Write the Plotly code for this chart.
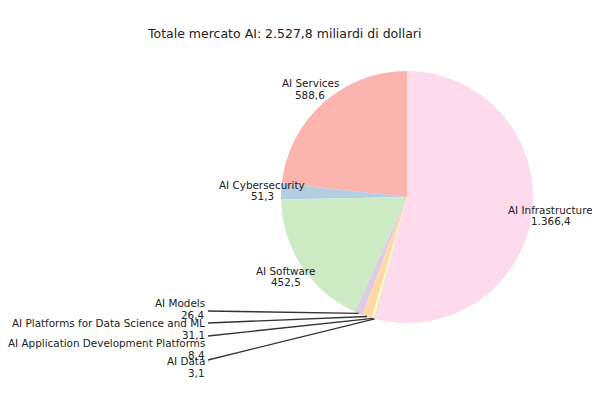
import math
import plotly.graph_objects as go

labels = ["AI Services", "AI Cybersecurity", "AI Software", "AI Models",
          "AI Platforms for Data Science and ML", "AI Application Development Platforms",
          "AI Data", "AI Infrastructure"]
values = [588.6, 51.3, 452.5, 26.4, 31.1, 8.4, 3.1, 1366.4]
colors = ["#fbb4ae", "#b3cde3", "#ccebc5", "#decbe4", "#fed9a6", "#ffffcc", "#e5d8bd", "#fddaec"]
title_text = "Totale mercato AI: 2.527,8 miliardi di dollari"

W, H = 600, 400
OFF = 8                     # page margin of the browser
CX, CY, R = 407, 197, 126   # pie centre / radius in page px
LABEL_DIST = 1.15
LINE_GAP = 11.5


def it_fmt(v):
    s = f"{v:,.1f}"
    return s.replace(",", "X").replace(".", ",").replace("X", ".")


def px2paper(x, y):
    return (x - OFF) / W, 1 - (y - OFF) / H


total = sum(values)
mids = []
acc = 0.0
for v in values:
    mids.append(90 + (acc + v / 2) / total * 360)
    acc += v

dx0, dy0 = px2paper(CX - R, CY + R)
dx1, dy1 = px2paper(CX + R, CY - R)
fig = go.Figure(go.Pie(
    labels=labels, values=values, sort=False, direction="counterclockwise",
    rotation=-values[0] / total * 360,
    marker=dict(colors=colors, line=dict(width=0)), textinfo="none",
    domain=dict(x=[dx0, dx1], y=[dy0, dy1]),
    showlegend=False,
))

FS = 10.4
font = dict(family="DejaVu Sans", size=FS, color="#222")
annotations = []
shapes = []


def add_text(x, y, text, xanchor):
    px, py = px2paper(x, y)
    annotations.append(dict(x=px, y=py, xref="paper", yref="paper", showarrow=False,
                            text=text, xanchor=xanchor, yanchor="middle", font=font))


# labels placed around the pie
for i in [0, 1, 2, 7]:
    a = math.radians(mids[i])
    x = CX + LABEL_DIST * R * math.cos(a)
    y = CY - LABEL_DIST * R * math.sin(a)
    add_text(x, y - LINE_GAP / 2, labels[i], "center")
    add_text(x, y + LINE_GAP / 2, it_fmt(values[i]), "center")

# small slices with leader lines
small_label_y = [303, 323, 343, 361]
line_start_y = [311, 323, 336, 360]
for k, i in enumerate([3, 4, 5, 6]):
    a = math.radians(mids[i])
    ex = CX + R * math.cos(a)
    ey = CY - R * math.sin(a)
    add_text(207, small_label_y[k], labels[i], "right")
    add_text(207, small_label_y[k] + LINE_GAP, it_fmt(values[i]), "right")
    x0, y0 = px2paper(208, line_start_y[k])
    x1, y1 = px2paper(ex, ey)
    shapes.append(dict(type="line", xref="paper", yref="paper", x0=x0, y0=y0, x1=x1, y1=y1,
                       line=dict(color="#333333", width=1.4)))

tx, ty = px2paper(284, 33)
annotations.append(dict(x=tx, y=ty, xref="paper", yref="paper", showarrow=False,
                        text=title_text, xanchor="center", yanchor="middle",
                        font=dict(family="DejaVu Sans", size=12.5, color="#222")))

fig.update_layout(width=W, height=H, margin=dict(l=0, r=0, t=0, b=0),
                  paper_bgcolor="white", plot_bgcolor="white",
                  annotations=annotations, shapes=shapes)
fig.write_html("out.html")
